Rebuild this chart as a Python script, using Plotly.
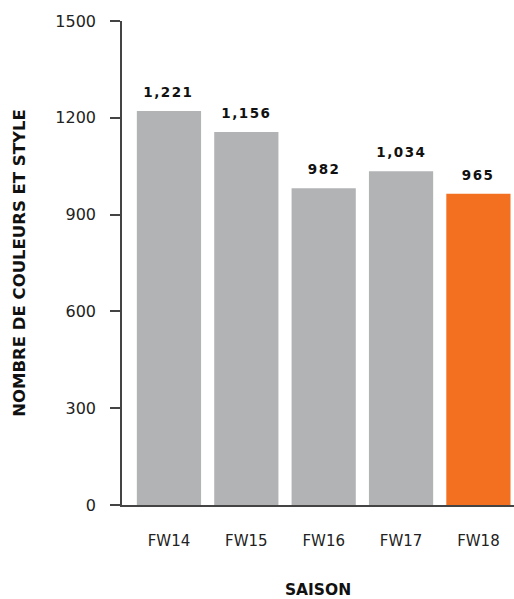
import plotly.graph_objects as go

seasons = ["FW14", "FW15", "FW16", "FW17", "FW18"]
counts = [1221, 1156, 982, 1034, 965]
labels = ["1,221", "1,156", "982", "1,034", "965"]
colors = ["#b2b3b5", "#b2b3b5", "#b2b3b5", "#b2b3b5", "#f37021"]

FONT = "DejaVu Sans, Verdana, sans-serif"

fig = go.Figure(go.Bar(
    x=seasons, y=counts, marker_color=colors, marker_line_width=0,
    hoverinfo="x+y",
))

for s, v, t in zip(seasons, counts, labels):
    fig.add_annotation(
        x=s, y=v, text=t, showarrow=False, yanchor="bottom", yshift=9,
        font=dict(family=FONT, size=13.5, color="#111111", weight="bold"),
    )

fig.update_layout(
    width=514, height=599,
    margin=dict(l=122, r=0, t=21, b=94),
    plot_bgcolor="white", paper_bgcolor="white",
    bargap=0.17,
    showlegend=False,
    font=dict(family=FONT, color="#222222"),
)
fig.update_xaxes(
    range=[-0.607, 4.46], showline=True, linecolor="#444444", linewidth=1.5,
    ticks="", ticklabelstandoff=21, tickfont=dict(size=15, color="#222222"),
    title=dict(text="SAISON", font=dict(size=15.5, weight="bold", color="#111111"), standoff=42),
    showgrid=False, automargin=False,
)
fig.update_yaxes(
    range=[0, 1500], dtick=300, showline=True, linecolor="#444444", linewidth=1.5,
    ticks="outside", ticklen=10, tickcolor="#444444", tickwidth=1.5,
    ticklabelstandoff=11,
    tickfont=dict(size=16, color="#222222"), showgrid=False, zeroline=False,
    title=dict(text="NOMBRE DE COULEURS ET STYLE", font=dict(size=16.5, weight="bold", color="#111111"), standoff=26),
    automargin=False,
)

post = """
document.body.style.margin = '0';
document.body.style.overflow = 'hidden';
document.querySelectorAll('.annotation-text').forEach(function(t){ t.style.letterSpacing = '1.5px'; });
"""
fig.write_html("out.html", post_script=post, config={"displayModeBar": False})
